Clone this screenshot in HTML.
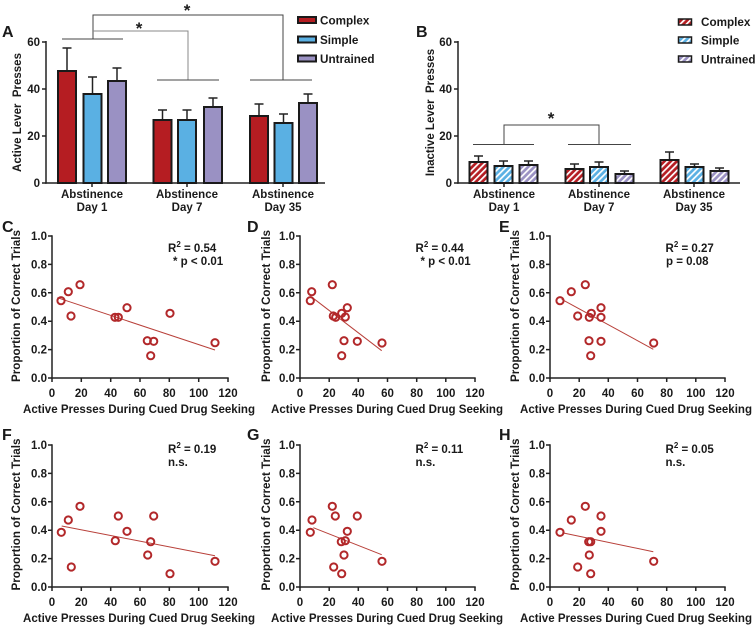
<!DOCTYPE html>
<html><head><meta charset="utf-8"><style>
html,body{margin:0;padding:0;background:#fff;}
svg{display:block;}
text{font-family:"Liberation Sans",Arial,sans-serif;font-weight:bold;fill:#1a1a1a;}
</style></head><body>
<svg width="756" height="626" viewBox="0 0 756 626" xmlns="http://www.w3.org/2000/svg">
<defs>
<pattern id="hr" width="4.4" height="4.4" patternUnits="userSpaceOnUse" patternTransform="rotate(45)"><rect width="4.4" height="4.4" fill="#b51d22"/><rect width="1.7" height="4.4" fill="#fff"/></pattern>
<pattern id="hb" width="4.4" height="4.4" patternUnits="userSpaceOnUse" patternTransform="rotate(45)"><rect width="4.4" height="4.4" fill="#5ab0e3"/><rect width="1.7" height="4.4" fill="#fff"/></pattern>
<pattern id="hp" width="4.4" height="4.4" patternUnits="userSpaceOnUse" patternTransform="rotate(45)"><rect width="4.4" height="4.4" fill="#9a91c3"/><rect width="1.7" height="4.4" fill="#fff"/></pattern>
</defs>

<!-- ===== Panel A ===== -->
<text x="2" y="37" font-size="16">A</text>
<text transform="translate(21,112.5) rotate(-90)" text-anchor="middle" font-size="11.5" xml:space="preserve">Active Lever  Presses</text>
<g stroke="#222" stroke-width="1.5" fill="none">
<line x1="46" y1="41" x2="46" y2="183.7"/>
<line x1="45.3" y1="183" x2="325" y2="183"/>
<line x1="42" y1="42" x2="46" y2="42"/><line x1="42" y1="89" x2="46" y2="89"/>
<line x1="42" y1="136" x2="46" y2="136"/><line x1="42" y1="183" x2="46" y2="183"/>
<line x1="92" y1="183" x2="92" y2="187"/><line x1="187" y1="183" x2="187" y2="187"/><line x1="283" y1="183" x2="283" y2="187"/>
</g>
<g font-size="11.5" text-anchor="end">
<text x="40" y="46">60</text><text x="40" y="93">40</text><text x="40" y="140">20</text><text x="40" y="187">0</text>
</g>
<g font-size="11.5" text-anchor="middle">
<text x="92" y="198">Abstinence</text><text x="92" y="211">Day 1</text>
<text x="187" y="198">Abstinence</text><text x="187" y="211">Day 7</text>
<text x="283" y="198">Abstinence</text><text x="283" y="211">Day 35</text>
</g>
<g stroke="#222" stroke-width="1.5">
<line x1="67" y1="71" x2="67" y2="48"/><line x1="62.5" y1="48" x2="71.5" y2="48"/>
<line x1="92.5" y1="94" x2="92.5" y2="77"/><line x1="88" y1="77" x2="97" y2="77"/>
<line x1="117" y1="81" x2="117" y2="68"/><line x1="112.5" y1="68" x2="121.5" y2="68"/>
<line x1="162.5" y1="120" x2="162.5" y2="110"/><line x1="158" y1="110" x2="167" y2="110"/>
<line x1="187" y1="120" x2="187" y2="110"/><line x1="182.5" y1="110" x2="191.5" y2="110"/>
<line x1="213" y1="107" x2="213" y2="98"/><line x1="208.5" y1="98" x2="217.5" y2="98"/>
<line x1="259" y1="116" x2="259" y2="104"/><line x1="254.5" y1="104" x2="263.5" y2="104"/>
<line x1="283.5" y1="123" x2="283.5" y2="114"/><line x1="279" y1="114" x2="288" y2="114"/>
<line x1="308" y1="103" x2="308" y2="94"/><line x1="303.5" y1="94" x2="312.5" y2="94"/>
</g>
<g stroke="#1a1a1a" stroke-width="2">
<rect x="58" y="71" width="18" height="112" fill="#b51d22"/>
<rect x="83.5" y="94" width="18" height="89" fill="#5ab0e3"/>
<rect x="108" y="81" width="18" height="102" fill="#9a91c3"/>
<rect x="153.5" y="120" width="18" height="63" fill="#b51d22"/>
<rect x="178" y="120" width="18" height="63" fill="#5ab0e3"/>
<rect x="204" y="107" width="18" height="76" fill="#9a91c3"/>
<rect x="250" y="116" width="18" height="67" fill="#b51d22"/>
<rect x="274.5" y="123" width="18" height="60" fill="#5ab0e3"/>
<rect x="299" y="103" width="18" height="80" fill="#9a91c3"/>
</g>
<g fill="none" stroke-width="1">
<polyline points="93,39 93,15 283,15 283,80" stroke="#444"/>
<polyline points="93,31 188,31 188,80" stroke="#888"/>
<line x1="62" y1="39" x2="123" y2="39" stroke="#444"/>
<line x1="157" y1="80" x2="219" y2="80" stroke="#444"/>
<line x1="250" y1="80" x2="312" y2="80" stroke="#444"/>
</g>
<text x="187" y="16" font-size="17" text-anchor="middle">*</text>
<text x="139" y="34" font-size="17" text-anchor="middle">*</text>
<g stroke="#1a1a1a" stroke-width="2">
<rect x="298" y="17" width="18" height="6" fill="#b51d22"/>
<rect x="298" y="36.5" width="18" height="6" fill="#5ab0e3"/>
<rect x="298" y="55.5" width="18" height="6" fill="#9a91c3"/>
</g>
<g font-size="11.7">
<text x="320" y="24.5">Complex</text><text x="320" y="44">Simple</text><text x="320" y="63">Untrained</text>
</g>

<!-- ===== Panel B ===== -->
<text x="416" y="37" font-size="16">B</text>
<text transform="translate(434,112.5) rotate(-90)" text-anchor="middle" font-size="11.5" xml:space="preserve">Inactive Lever  Presses</text>
<g stroke="#222" stroke-width="1.5" fill="none">
<line x1="458" y1="41" x2="458" y2="183.7"/>
<line x1="457.3" y1="183" x2="740" y2="183"/>
<line x1="454" y1="42" x2="458" y2="42"/><line x1="454" y1="89" x2="458" y2="89"/>
<line x1="454" y1="136" x2="458" y2="136"/><line x1="454" y1="183" x2="458" y2="183"/>
<line x1="504" y1="183" x2="504" y2="187"/><line x1="599" y1="183" x2="599" y2="187"/><line x1="694" y1="183" x2="694" y2="187"/>
</g>
<g font-size="11.5" text-anchor="end">
<text x="452" y="46">60</text><text x="452" y="93">40</text><text x="452" y="140">20</text><text x="452" y="187">0</text>
</g>
<g font-size="11.5" text-anchor="middle">
<text x="504" y="198">Abstinence</text><text x="504" y="211">Day 1</text>
<text x="599" y="198">Abstinence</text><text x="599" y="211">Day 7</text>
<text x="694" y="198">Abstinence</text><text x="694" y="211">Day 35</text>
</g>
<g stroke="#222" stroke-width="1.5">
<line x1="478.5" y1="162" x2="478.5" y2="156"/><line x1="474" y1="156" x2="483" y2="156"/>
<line x1="503.5" y1="166" x2="503.5" y2="161"/><line x1="499" y1="161" x2="508" y2="161"/>
<line x1="528.5" y1="165" x2="528.5" y2="161"/><line x1="524" y1="161" x2="533" y2="161"/>
<line x1="574.5" y1="169" x2="574.5" y2="164"/><line x1="570" y1="164" x2="579" y2="164"/>
<line x1="599" y1="167" x2="599" y2="162"/><line x1="594.5" y1="162" x2="603.5" y2="162"/>
<line x1="624.5" y1="174" x2="624.5" y2="171"/><line x1="620" y1="171" x2="629" y2="171"/>
<line x1="669.5" y1="160" x2="669.5" y2="152"/><line x1="665" y1="152" x2="674" y2="152"/>
<line x1="694.5" y1="167" x2="694.5" y2="164"/><line x1="690" y1="164" x2="699" y2="164"/>
<line x1="719.5" y1="171" x2="719.5" y2="168"/><line x1="715" y1="168" x2="724" y2="168"/>
</g>
<g stroke="#1a1a1a" stroke-width="2">
<rect x="469.5" y="162" width="18" height="21" fill="url(#hr)"/>
<rect x="494.5" y="166" width="18" height="17" fill="url(#hb)"/>
<rect x="519.5" y="165" width="18" height="18" fill="url(#hp)"/>
<rect x="565.5" y="169" width="18" height="14" fill="url(#hr)"/>
<rect x="590" y="167" width="18" height="16" fill="url(#hb)"/>
<rect x="615.5" y="174" width="18" height="9" fill="url(#hp)"/>
<rect x="660.5" y="160" width="18" height="23" fill="url(#hr)"/>
<rect x="685.5" y="167" width="18" height="16" fill="url(#hb)"/>
<rect x="710.5" y="171" width="18" height="12" fill="url(#hp)"/>
</g>
<g fill="none" stroke="#444" stroke-width="1">
<line x1="473" y1="144.5" x2="534" y2="144.5"/>
<polyline points="504,144.5 504,125 599,125 599,144.5"/>
<line x1="568" y1="144.5" x2="631" y2="144.5"/>
</g>
<text x="551" y="124" font-size="17" text-anchor="middle">*</text>
<g stroke="#1a1a1a" stroke-width="1.5">
<rect x="678.5" y="19" width="13" height="6" fill="url(#hr)"/>
<rect x="678.5" y="37" width="13" height="6" fill="url(#hb)"/>
<rect x="678.5" y="56" width="13" height="6" fill="url(#hp)"/>
</g>
<g font-size="11.7">
<text x="701" y="26">Complex</text><text x="701" y="44.5">Simple</text><text x="701" y="63.5">Untrained</text>
</g>

<!-- ===== Scatter panels ===== -->
<text x="2" y="232" font-size="16">C</text>
<text x="247" y="232" font-size="16">D</text>
<text x="499" y="232" font-size="16">E</text>
<text x="2" y="440" font-size="16">F</text>
<text x="247" y="440" font-size="16">G</text>
<text x="499" y="440" font-size="16">H</text>

<g font-size="11.5" text-anchor="middle">
<text transform="translate(20,306) rotate(-90)" textLength="152" lengthAdjust="spacingAndGlyphs">Proportion of Correct Trials</text>
<text transform="translate(270,306) rotate(-90)" textLength="152" lengthAdjust="spacingAndGlyphs">Proportion of Correct Trials</text>
<text transform="translate(519,306) rotate(-90)" textLength="152" lengthAdjust="spacingAndGlyphs">Proportion of Correct Trials</text>
<text transform="translate(20,514.5) rotate(-90)" textLength="152" lengthAdjust="spacingAndGlyphs">Proportion of Correct Trials</text>
<text transform="translate(270,514.5) rotate(-90)" textLength="152" lengthAdjust="spacingAndGlyphs">Proportion of Correct Trials</text>
<text transform="translate(519,514.5) rotate(-90)" textLength="152" lengthAdjust="spacingAndGlyphs">Proportion of Correct Trials</text>
</g>
<g font-size="11.5" text-anchor="middle">
<text x="139" y="413" textLength="232" lengthAdjust="spacingAndGlyphs">Active Presses During Cued Drug Seeking</text>
<text x="387" y="413" textLength="232" lengthAdjust="spacingAndGlyphs">Active Presses During Cued Drug Seeking</text>
<text x="636" y="413" textLength="232" lengthAdjust="spacingAndGlyphs">Active Presses During Cued Drug Seeking</text>
<text x="139" y="622" textLength="232" lengthAdjust="spacingAndGlyphs">Active Presses During Cued Drug Seeking</text>
<text x="387" y="622" textLength="232" lengthAdjust="spacingAndGlyphs">Active Presses During Cued Drug Seeking</text>
<text x="636" y="622" textLength="232" lengthAdjust="spacingAndGlyphs">Active Presses During Cued Drug Seeking</text>
</g>

<g stroke="#222" stroke-width="1.5" fill="none">
<line x1="52" y1="235.3" x2="52" y2="378.7"/><line x1="51.3" y1="378" x2="228.7" y2="378"/>
<path d="M48 236H52M48 264.4H52M48 292.8H52M48 321.2H52M48 349.6H52M48 378H52"/>
<path d="M52 378V382M81.3 378V382M110.7 378V382M140 378V382M169.3 378V382M198.7 378V382M228 378V382"/>
<line x1="300" y1="235.3" x2="300" y2="378.7"/><line x1="299.3" y1="378" x2="475.7" y2="378"/>
<path d="M296 236H300M296 264.4H300M296 292.8H300M296 321.2H300M296 349.6H300M296 378H300"/>
<path d="M300 378V382M329.2 378V382M358.3 378V382M387.5 378V382M416.7 378V382M445.8 378V382M475 378V382"/>
<line x1="550" y1="235.3" x2="550" y2="378.7"/><line x1="549.3" y1="378" x2="725.7" y2="378"/>
<path d="M546 236H550M546 264.4H550M546 292.8H550M546 321.2H550M546 349.6H550M546 378H550"/>
<path d="M550 378V382M579.2 378V382M608.3 378V382M637.5 378V382M666.7 378V382M695.8 378V382M725 378V382"/>
<line x1="52" y1="444.3" x2="52" y2="587.7"/><line x1="51.3" y1="587" x2="228.7" y2="587"/>
<path d="M48 445H52M48 473.4H52M48 501.8H52M48 530.2H52M48 558.6H52M48 587H52"/>
<path d="M52 587V591M81.3 587V591M110.7 587V591M140 587V591M169.3 587V591M198.7 587V591M228 587V591"/>
<line x1="300" y1="444.3" x2="300" y2="587.7"/><line x1="299.3" y1="587" x2="475.7" y2="587"/>
<path d="M296 445H300M296 473.4H300M296 501.8H300M296 530.2H300M296 558.6H300M296 587H300"/>
<path d="M300 587V591M329.2 587V591M358.3 587V591M387.5 587V591M416.7 587V591M445.8 587V591M475 587V591"/>
<line x1="550" y1="444.3" x2="550" y2="587.7"/><line x1="549.3" y1="587" x2="725.7" y2="587"/>
<path d="M546 445H550M546 473.4H550M546 501.8H550M546 530.2H550M546 558.6H550M546 587H550"/>
<path d="M550 587V591M579.2 587V591M608.3 587V591M637.5 587V591M666.7 587V591M695.8 587V591M725 587V591"/>
</g>

<g font-size="11.5" text-anchor="end">
<text x="47" y="240">1.0</text><text x="47" y="268.4">0.8</text><text x="47" y="296.8">0.6</text><text x="47" y="325.2">0.4</text><text x="47" y="353.6">0.2</text><text x="47" y="382">0.0</text>
<text x="295" y="240">1.0</text><text x="295" y="268.4">0.8</text><text x="295" y="296.8">0.6</text><text x="295" y="325.2">0.4</text><text x="295" y="353.6">0.2</text><text x="295" y="382">0.0</text>
<text x="545" y="240">1.0</text><text x="545" y="268.4">0.8</text><text x="545" y="296.8">0.6</text><text x="545" y="325.2">0.4</text><text x="545" y="353.6">0.2</text><text x="545" y="382">0.0</text>
<text x="47" y="449">1.0</text><text x="47" y="477.4">0.8</text><text x="47" y="505.8">0.6</text><text x="47" y="534.2">0.4</text><text x="47" y="562.6">0.2</text><text x="47" y="591">0.0</text>
<text x="295" y="449">1.0</text><text x="295" y="477.4">0.8</text><text x="295" y="505.8">0.6</text><text x="295" y="534.2">0.4</text><text x="295" y="562.6">0.2</text><text x="295" y="591">0.0</text>
<text x="545" y="449">1.0</text><text x="545" y="477.4">0.8</text><text x="545" y="505.8">0.6</text><text x="545" y="534.2">0.4</text><text x="545" y="562.6">0.2</text><text x="545" y="591">0.0</text>
</g>
<g font-size="11.5" text-anchor="middle">
<text x="52" y="397">0</text><text x="81.3" y="397">20</text><text x="110.7" y="397">40</text><text x="140" y="397">60</text><text x="169.3" y="397">80</text><text x="198.7" y="397">100</text><text x="228" y="397">120</text>
<text x="300" y="397">0</text><text x="329.2" y="397">20</text><text x="358.3" y="397">40</text><text x="387.5" y="397">60</text><text x="416.7" y="397">80</text><text x="445.8" y="397">100</text><text x="475" y="397">120</text>
<text x="550" y="397">0</text><text x="579.2" y="397">20</text><text x="608.3" y="397">40</text><text x="637.5" y="397">60</text><text x="666.7" y="397">80</text><text x="695.8" y="397">100</text><text x="725" y="397">120</text>
<text x="52" y="606">0</text><text x="81.3" y="606">20</text><text x="110.7" y="606">40</text><text x="140" y="606">60</text><text x="169.3" y="606">80</text><text x="198.7" y="606">100</text><text x="228" y="606">120</text>
<text x="300" y="606">0</text><text x="329.2" y="606">20</text><text x="358.3" y="606">40</text><text x="387.5" y="606">60</text><text x="416.7" y="606">80</text><text x="445.8" y="606">100</text><text x="475" y="606">120</text>
<text x="550" y="606">0</text><text x="579.2" y="606">20</text><text x="608.3" y="606">40</text><text x="637.5" y="606">60</text><text x="666.7" y="606">80</text><text x="695.8" y="606">100</text><text x="725" y="606">120</text>
</g>

<g font-size="11.5">
<text x="168" y="252">R<tspan font-size="8" dy="-5">2</tspan><tspan dy="5"> = 0.54</tspan></text>
<text x="173" y="265">* p &lt; 0.01</text>
<text x="415.5" y="252">R<tspan font-size="8" dy="-5">2</tspan><tspan dy="5"> = 0.44</tspan></text>
<text x="420.5" y="265">* p &lt; 0.01</text>
<text x="665.5" y="252">R<tspan font-size="8" dy="-5">2</tspan><tspan dy="5"> = 0.27</tspan></text>
<text x="666" y="265">p = 0.08</text>
<text x="168" y="453">R<tspan font-size="8" dy="-5">2</tspan><tspan dy="5"> = 0.19</tspan></text>
<text x="168" y="466">n.s.</text>
<text x="415.5" y="453">R<tspan font-size="8" dy="-5">2</tspan><tspan dy="5"> = 0.11</tspan></text>
<text x="415.5" y="466">n.s.</text>
<text x="665.5" y="453">R<tspan font-size="8" dy="-5">2</tspan><tspan dy="5"> = 0.05</tspan></text>
<text x="665.5" y="466">n.s.</text>
</g>

<g stroke="#b8403a" stroke-width="1">
<line x1="57.3" y1="297.7" x2="215" y2="350"/>
<line x1="313.3" y1="298.3" x2="381.7" y2="350.7"/>
<line x1="561.7" y1="299.3" x2="653.3" y2="349.3"/>
<line x1="61.7" y1="526" x2="215" y2="555.7"/>
<line x1="313.3" y1="527.7" x2="381.7" y2="554.7"/>
<line x1="562.3" y1="532.7" x2="653.3" y2="551.7"/>
</g>

<g fill="#fff" fill-opacity="0" stroke="#b2282a" stroke-width="2">
<circle cx="61" cy="300.7" r="3.6"/><circle cx="68.3" cy="291.7" r="3.6"/><circle cx="71" cy="316" r="3.6"/><circle cx="80" cy="284.7" r="3.6"/>
<circle cx="115" cy="317.3" r="3.6"/><circle cx="118.3" cy="317.3" r="3.6"/><circle cx="127" cy="307.7" r="3.6"/><circle cx="147.3" cy="340.7" r="3.6"/>
<circle cx="150.7" cy="355.7" r="3.6"/><circle cx="153.7" cy="341.3" r="3.6"/><circle cx="170" cy="313.3" r="3.6"/><circle cx="215" cy="342.7" r="3.6"/>
<circle cx="310.3" cy="300.7" r="3.6"/><circle cx="311.7" cy="291.7" r="3.6"/><circle cx="332.3" cy="284.7" r="3.6"/><circle cx="333.3" cy="316" r="3.6"/>
<circle cx="335.7" cy="317.3" r="3.6"/><circle cx="341.7" cy="313.3" r="3.6"/><circle cx="345.3" cy="317" r="3.6"/><circle cx="347.3" cy="307.7" r="3.6"/>
<circle cx="344" cy="340.7" r="3.6"/><circle cx="341.7" cy="355.7" r="3.6"/><circle cx="357.3" cy="341.3" r="3.6"/><circle cx="382" cy="343" r="3.6"/>
<circle cx="560" cy="300.7" r="3.6"/><circle cx="571.3" cy="291.7" r="3.6"/><circle cx="585.3" cy="284.7" r="3.6"/><circle cx="577.7" cy="316" r="3.6"/>
<circle cx="589.3" cy="317.3" r="3.6"/><circle cx="591.3" cy="313.3" r="3.6"/><circle cx="601" cy="307.7" r="3.6"/><circle cx="601" cy="317.3" r="3.6"/>
<circle cx="589" cy="340.7" r="3.6"/><circle cx="601" cy="341.3" r="3.6"/><circle cx="590.7" cy="355.7" r="3.6"/><circle cx="653.7" cy="343" r="3.6"/>
<circle cx="61.3" cy="532.3" r="3.6"/><circle cx="68.3" cy="520" r="3.6"/><circle cx="71.3" cy="567" r="3.6"/><circle cx="80" cy="506.3" r="3.6"/>
<circle cx="115.3" cy="540.7" r="3.6"/><circle cx="118.3" cy="516" r="3.6"/><circle cx="127" cy="531.3" r="3.6"/><circle cx="147.7" cy="555" r="3.6"/>
<circle cx="150.7" cy="541.7" r="3.6"/><circle cx="153.7" cy="516" r="3.6"/><circle cx="170" cy="573.7" r="3.6"/><circle cx="215" cy="561.3" r="3.6"/>
<circle cx="310.3" cy="532.3" r="3.6"/><circle cx="312" cy="520" r="3.6"/><circle cx="332.3" cy="506.3" r="3.6"/><circle cx="335.3" cy="516" r="3.6"/>
<circle cx="333.7" cy="567" r="3.6"/><circle cx="341.3" cy="541.7" r="3.6"/><circle cx="345.3" cy="540.7" r="3.6"/><circle cx="347.3" cy="531.3" r="3.6"/>
<circle cx="344" cy="555" r="3.6"/><circle cx="341.7" cy="573.7" r="3.6"/><circle cx="357.3" cy="516" r="3.6"/><circle cx="382" cy="561.3" r="3.6"/>
<circle cx="560" cy="532.3" r="3.6"/><circle cx="571.3" cy="520" r="3.6"/><circle cx="585.3" cy="506.3" r="3.6"/><circle cx="577.7" cy="567" r="3.6"/>
<circle cx="588.7" cy="541.7" r="3.6"/><circle cx="590.7" cy="541.7" r="3.6"/><circle cx="601" cy="516" r="3.6"/><circle cx="601" cy="531.3" r="3.6"/>
<circle cx="589.3" cy="555" r="3.6"/><circle cx="590.7" cy="573.7" r="3.6"/><circle cx="653.7" cy="561.3" r="3.6"/>
</g>
</svg>
</body></html>
